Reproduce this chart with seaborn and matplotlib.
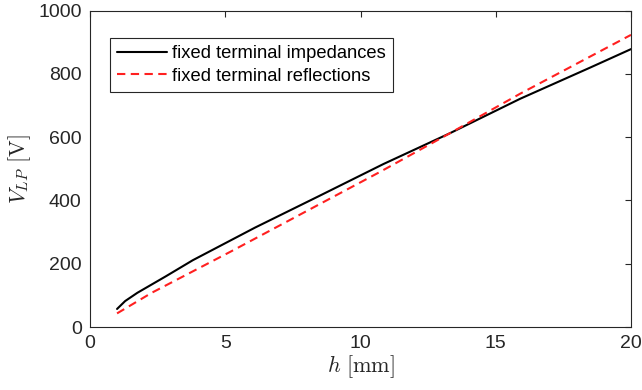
import matplotlib
matplotlib.use("Agg")
import matplotlib.pyplot as plt
import seaborn as sns
import pandas as pd

# Data
h_imp = [1.0, 1.3, 1.75, 2.8, 3.8, 6.1, 8.45, 10.85, 13.3, 15.9, 18.5, 20.0]
v_imp = [57, 82, 108, 160, 211, 314, 413, 515, 612, 721, 820, 878]
h_ref = [1.0, 2.28, 5.24, 10.72, 13.3, 15.9, 20.0]
v_ref = [43, 108, 240, 490, 612, 737, 923]

label_imp = "fixed terminal impedances"
label_ref = "fixed terminal reflections"

x_ticks = [0, 5, 10, 15, 20]
y_ticks = [0, 200, 400, 600, 800, 1000]

sns.set_theme(style="white")
plt.rcParams["font.family"] = ["Liberation Sans", "DejaVu Sans"]
plt.rcParams["mathtext.fontset"] = "cm"

df = pd.concat([
    pd.DataFrame({"h": h_imp, "V": v_imp, "series": label_imp}),
    pd.DataFrame({"h": h_ref, "V": v_ref, "series": label_ref}),
], ignore_index=True)

fig = plt.figure(figsize=(6.42, 3.90), dpi=100)
ax = fig.add_axes([90 / 642, 1 - 327 / 390, (631 - 90) / 642, (327 - 10.5) / 390])

sns.lineplot(data=df, x="h", y="V", hue="series", style="series",
             palette={label_imp: "black", label_ref: "#ff2020"},
             dashes={label_imp: "", label_ref: (4.0, 2.6)},
             linewidth=1.5, sort=False, estimator=None, ax=ax)

ax.set_xlim(0, 20)
ax.set_ylim(0, 1000)
ax.set_xticks(x_ticks)
ax.set_yticks(y_ticks)
ax.tick_params(direction="in", length=4, width=0.8, top=True, right=True,
               labelsize=14, colors="#262626", pad=6)
for s in ax.spines.values():
    s.set_color("#262626")
    s.set_linewidth(0.8)
    s.set_visible(True)

ax.set_xlabel(r"$h\ [\mathrm{mm}]$", fontsize=16, color="#262626", labelpad=1)
ax.set_ylabel(r"$V_{LP}\ [\mathrm{V}]$", fontsize=16, color="#262626", labelpad=4)

leg = ax.legend(loc="upper left", bbox_to_anchor=(20 / 541, 1 - 27.5 / 316.5),
                fontsize=13.2, handlelength=2.7, handletextpad=0.3,
                borderpad=0.4, labelspacing=0.3, frameon=True, fancybox=False,
                framealpha=1, edgecolor="#262626", borderaxespad=0)
leg.get_frame().set_linewidth(0.8)
for t in leg.get_texts():
    t.set_color("black")

fig.savefig("out.png", dpi=100)
